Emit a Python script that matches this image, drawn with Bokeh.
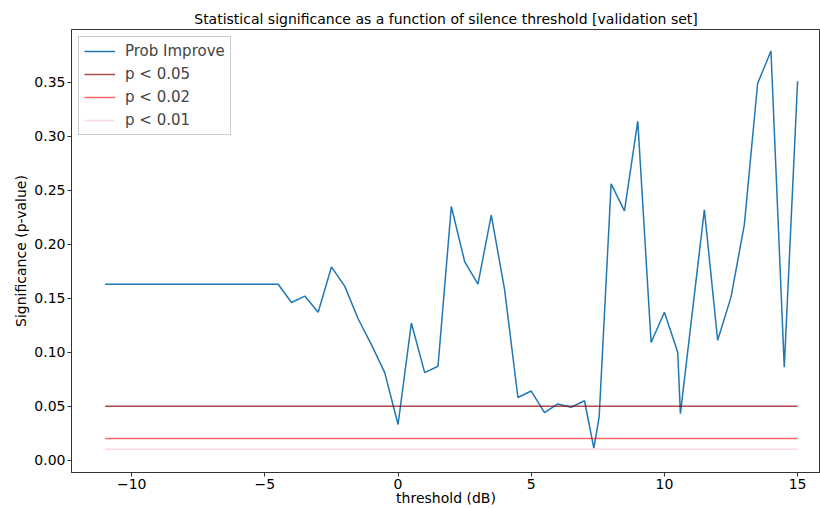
from bokeh.plotting import figure
from bokeh.models import FixedTicker, PrintfTickFormatter, Legend, LegendItem, Range1d
from bokeh.embed import file_html
from bokeh.resources import INLINE

# Data
threshold = [-11, -10.5, -10, -9.5, -9, -8.5, -8, -7.5, -7, -6.5, -6, -5.5, -5, -4.5,
             -4, -3.5, -3, -2.5, -2, -1.5, -1, -0.5, 0, 0.5, 1, 1.5, 2, 2.5, 3, 3.5,
             4, 4.5, 5, 5.5, 6, 6.5, 7, 7.35, 7.55, 8, 8.5, 9, 9.5, 10, 10.5, 10.6,
             11.5, 12, 12.5, 13, 13.5, 14, 14.5, 15]
prob_improve = [0.163, 0.163, 0.163, 0.163, 0.163, 0.163, 0.163, 0.163, 0.163, 0.163,
                0.163, 0.163, 0.163, 0.163,
                0.146, 0.152, 0.137, 0.179, 0.161, 0.131, 0.107, 0.081, 0.033, 0.127,
                0.081, 0.087, 0.235, 0.184, 0.163, 0.227,
                0.158, 0.058, 0.064, 0.044, 0.052, 0.049, 0.055, 0.011, 0.040, 0.256,
                0.231, 0.314, 0.109, 0.137, 0.100, 0.043,
                0.232, 0.111, 0.151, 0.218, 0.349, 0.379, 0.086, 0.351]
line_x = [-11, 15]
p05 = [0.05, 0.05]
p02 = [0.02, 0.02]
p01 = [0.01, 0.01]
x_ticks = [-10, -5, 0, 5, 10, 15]
y_ticks = [0.0, 0.05, 0.10, 0.15, 0.20, 0.25, 0.30, 0.35]

FONT = "DejaVu Sans"

p = figure(width=820, height=508, output_backend="svg", toolbar_location=None,
           x_range=Range1d(-12.26, 15.86), y_range=Range1d(-0.0115, 0.399),
           title="Statistical significance as a function of silence threshold [validation set]",
           min_border_left=71, min_border_right=0, min_border_top=29, min_border_bottom=0)

p.title.align = "center"
p.title.text_font = FONT
p.title.text_font_style = "normal"
p.title.text_font_size = "14px"
p.title.text_color = "black"
p.title.standoff = 5

p.xgrid.visible = False
p.ygrid.visible = False
p.outline_line_color = "#333333"
p.outline_line_width = 1

for ax in (p.xaxis, p.yaxis):
    ax.axis_line_color = "#333333"
    ax.major_tick_line_color = "#333333"
    ax.minor_tick_line_color = None
    ax.major_tick_out = 4
    ax.major_tick_in = 0
    ax.major_label_text_font = FONT
    ax.major_label_text_font_size = "14px"
    ax.major_label_text_color = "black"
    ax.axis_label_text_font = FONT
    ax.axis_label_text_font_size = "14px"
    ax.axis_label_text_font_style = "normal"
    ax.axis_label_text_color = "black"
    ax.major_label_standoff = 2
    ax.axis_label_standoff = 2

p.xaxis.axis_label_standoff = -2
p.xaxis.ticker = FixedTicker(ticks=x_ticks)
p.xaxis.major_label_overrides = {t: (("\u2212" + str(abs(t))) if t < 0 else str(t)) for t in x_ticks}
p.yaxis.ticker = FixedTicker(ticks=y_ticks)
p.yaxis.formatter = PrintfTickFormatter(format="%.2f")
p.xaxis.axis_label = "threshold (dB)"
p.yaxis.axis_label = "Significance (p-value)"

r0 = p.line(threshold, prob_improve, line_color="#1f77b4", line_width=1.5)
r1 = p.line(line_x, p05, line_color="darkred", line_alpha=0.7, line_width=1.5)
r2 = p.line(line_x, p02, line_color="red", line_alpha=0.6, line_width=1.5)
r3 = p.line(line_x, p01, line_color="pink", line_alpha=0.6, line_width=1.5)

legend = Legend(items=[
    LegendItem(label="Prob Improve", renderers=[r0]),
    LegendItem(label="p < 0.05", renderers=[r1]),
    LegendItem(label="p < 0.02", renderers=[r2]),
    LegendItem(label="p < 0.01", renderers=[r3]),
], location="top_left")
legend.label_text_font = FONT
legend.label_text_font_size = "15px"
legend.label_height = 18
legend.glyph_height = 18
legend.glyph_width = 31
legend.label_standoff = 10
legend.spacing = 5
legend.padding = 5
legend.margin = 7
legend.border_line_color = "#cccccc"
legend.border_line_alpha = 1
legend.background_fill_alpha = 0.8
p.add_layout(legend)

open("out.html", "w").write(file_html(p, INLINE))
